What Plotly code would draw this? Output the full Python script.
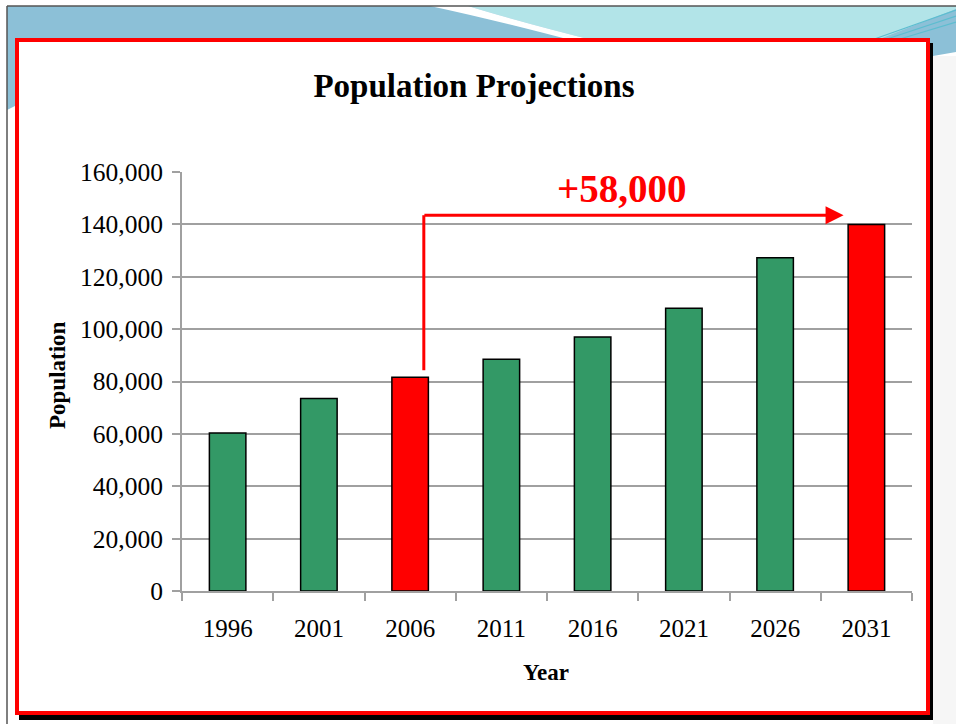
import plotly.graph_objects as go

# ---- data -------------------------------------------------------------
years = ["1996", "2001", "2006", "2011", "2016", "2021", "2026", "2031"]
population = [60300, 73500, 81600, 88500, 97000, 108000, 127300, 140000]
highlight_years = ["2006", "2031"]
growth_label = "+58,000"
y_ticks = [0, 20000, 40000, 60000, 80000, 100000, 120000, 140000, 160000]

# ---- page geometry (pixels) -------------------------------------------
W, H = 956, 724
PLOT_L, PLOT_R, PLOT_T, PLOT_B = 182, 912, 172, 591
FONT = "Liberation Serif"

GREEN = "#339966"
RED = "#FF0000"
GRID = "#A0A0A0"


def fx(x):
    """pixel x -> paper x"""
    return (x - PLOT_L) / (PLOT_R - PLOT_L)


def fy(y):
    """pixel y -> paper y"""
    return (PLOT_B - y) / (PLOT_B - PLOT_T)


def path(*pts, close=True):
    s = "M {} {}".format(fx(pts[0][0]), fy(pts[0][1]))
    for p in pts[1:]:
        if len(p) == 4:  # quadratic curve: control, end
            s += " Q {} {} {} {}".format(fx(p[0]), fy(p[1]), fx(p[2]), fy(p[3]))
        else:
            s += " L {} {}".format(fx(p[0]), fy(p[1]))
    return s + (" Z" if close else "")


colors = [RED if y in highlight_years else GREEN for y in years]

fig = go.Figure(
    go.Bar(
        x=years,
        y=population,
        width=0.4,
        marker=dict(color=colors, line=dict(color="#000000", width=1.5)),
        hoverinfo="x+y",
    )
)

shapes = []
# slide header band
shapes.append(dict(type="path", xref="paper", yref="paper", layer="below",
                   path=path((7, 6), (956, 6), (956, 52), (933, 56), (15, 106), (7, 110)),
                   fillcolor="#8CC0D7", line=dict(width=0)))
shapes.append(dict(type="path", xref="paper", yref="paper", layer="below",
                   path=path((468, 6), (956, 6), (956, 9), (872, 42), (600, 42),
                             (520, 22, 468, 6)),
                   fillcolor="#B2E4E8", line=dict(width=0)))
shapes.append(dict(type="path", xref="paper", yref="paper", layer="below",
                   path=path((430, 6), (468, 6), (520, 22, 600, 42), (578, 42),
                             (495, 20, 430, 6)),
                   fillcolor="#FFFFFF", line=dict(width=0)))
for (x0, y0, x1, y1) in [(866, 42, 956, 10), (878, 42, 956, 16), (890, 42, 956, 22)]:
    shapes.append(dict(type="line", xref="paper", yref="paper", layer="below",
                       x0=fx(x0), y0=fy(y0), x1=fx(x1), y1=fy(y1),
                       line=dict(color="#5DBDD0", width=1.2)))
# light strip at the right of the slide
shapes.append(dict(type="rect", xref="paper", yref="paper", layer="below",
                   x0=fx(933), x1=fx(956), y0=fy(56), y1=fy(724),
                   fillcolor="#F6F6F6", line=dict(width=0)))
# slide edges
shapes.append(dict(type="line", xref="paper", yref="paper", layer="below",
                   x0=fx(7), x1=fx(956), y0=fy(6), y1=fy(6),
                   line=dict(color="#555555", width=1.5)))
shapes.append(dict(type="line", xref="paper", yref="paper", layer="below",
                   x0=fx(7), x1=fx(7), y0=fy(6), y1=fy(724),
                   line=dict(color="#555555", width=1.5)))
# chart frame: black drop shadow, then white box with red border
shapes.append(dict(type="rect", xref="paper", yref="paper", layer="below",
                   x0=fx(19), x1=fx(933), y0=fy(43), y1=fy(720),
                   fillcolor="#000000", line=dict(width=0)))
shapes.append(dict(type="rect", xref="paper", yref="paper", layer="below",
                   x0=fx(17), x1=fx(928), y0=fy(40), y1=fy(713),
                   fillcolor="#FFFFFF", line=dict(color=RED, width=4)))

# growth arrow: rises from the 2006 bar, runs across toward the 2031 bar
i_start = years.index("2006")
i_end = years.index("2031")
arrow_x0 = i_start + 0.15
arrow_x1 = i_end - 0.25
arrow_y = 143500
shapes.append(dict(type="line", xref="x", yref="y", layer="above",
                   x0=arrow_x0, x1=arrow_x0, y0=84300, y1=arrow_y,
                   line=dict(color=RED, width=3)))

annotations = [
    dict(xref="x", yref="y", axref="x", ayref="y",
         x=arrow_x1, y=arrow_y, ax=arrow_x0 - 0.01, ay=arrow_y,
         text="", showarrow=True, arrowhead=2, arrowsize=1.2,
         arrowwidth=3, arrowcolor=RED, standoff=0, startstandoff=0),
    dict(xref="x", yref="y", x=4.32, y=153800, text="<b>" + growth_label + "</b>",
         showarrow=False, font=dict(family=FONT, size=39, color=RED)),
    # axis titles
    dict(xref="paper", yref="paper", x=fx(57), y=fy(375), text="<b>Population</b>",
         textangle=-90, showarrow=False, xanchor="center", yanchor="middle",
         font=dict(family=FONT, size=23, color="#000000")),
    dict(xref="paper", yref="paper", x=fx(546), y=fy(672), text="<b>Year</b>",
         showarrow=False, xanchor="center", yanchor="middle",
         font=dict(family=FONT, size=23, color="#000000")),
]

fig.update_layout(
    width=W, height=H,
    margin=dict(l=PLOT_L, r=W - PLOT_R, t=PLOT_T, b=H - PLOT_B, pad=0),
    paper_bgcolor="#FFFFFF",
    plot_bgcolor="rgba(0,0,0,0)",
    showlegend=False,
    title=dict(text="<b>Population Projections</b>", x=474 / W, xref="container",
               xanchor="center", y=1 - 85 / H, yanchor="middle", yref="container",
               font=dict(family=FONT, size=33, color="#000000")),
    font=dict(family=FONT, color="#000000"),
    shapes=shapes,
    annotations=annotations,
    bargap=0.6,
)

fig.update_xaxes(
    type="category",
    showline=True, linecolor=GRID, linewidth=2,
    ticks="outside", tickson="boundaries", ticklen=8, tickcolor=GRID, tickwidth=2,
    showgrid=False,
    tickfont=dict(family=FONT, size=25, color="#000000"),
    ticklabelstandoff=14,
)
fig.update_yaxes(
    range=[0, 160000], tickvals=y_ticks, tickformat=",",
    showgrid=True, gridcolor=GRID, gridwidth=1.6,
    showline=True, linecolor=GRID, linewidth=2, zeroline=False,
    ticks="outside", ticklen=8, tickcolor=GRID, tickwidth=2,
    tickfont=dict(family=FONT, size=25.5, color="#000000"),
    ticklabelstandoff=4,
)

fig.write_html("out.html")
